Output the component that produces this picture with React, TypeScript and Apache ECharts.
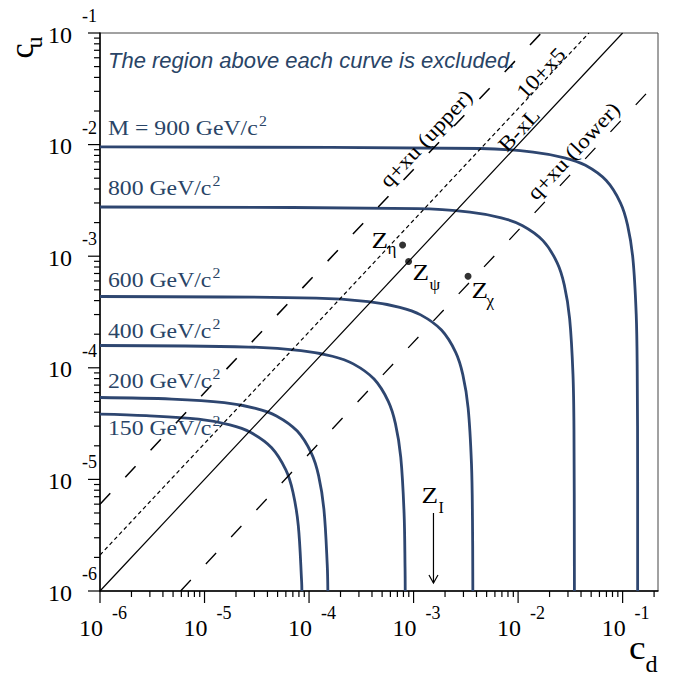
import React, { useEffect, useRef } from "react";
import * as echarts from "echarts";

// ---------------- data ----------------
const xMin = 1e-6;
const xMax = 0.218;
const yMin = 1e-6;
const yMax = 0.1;
const decades = [1e-6, 1e-5, 1e-4, 1e-3, 1e-2, 1e-1];
const minorMultipliers = [2, 3, 4, 5, 6, 7, 8, 9];

const massNames = ["M = 900 GeV/c", "800 GeV/c", "600 GeV/c", "400 GeV/c", "200 GeV/c", "150 GeV/c"];

// [c_d, c_u]
const curve900 = [
  [1e-6, 9.53e-3], [4.41e-3, 9.23e-3], [1.393e-2, 8.58e-3], [2.78e-2, 7.62e-3], [4.41e-2, 6.52e-3],
  [6.97e-2, 4.76e-3], [9.53e-2, 3.01e-3], [0.1115, 1.9e-3], [0.1254, 9.53e-4], [0.1349, 3.01e-4],
  [0.1379, 9.53e-5], [0.1392, 9.53e-6], [0.1392, 1e-6],
];
const curve800 = [
  [1e-6, 2.76e-3], [1.094e-3, 2.673e-3], [3.46e-3, 2.484e-3], [6.9e-3, 2.209e-3], [1.094e-2, 1.888e-3],
  [1.73e-2, 1.38e-3], [2.366e-2, 8.73e-4], [2.769e-2, 5.51e-4], [3.112e-2, 2.76e-4], [3.35e-2, 8.73e-5],
  [3.424e-2, 2.76e-5], [3.458e-2, 1e-6],
];
const curve600 = [
  [1e-6, 4.355e-4], [1.17e-4, 4.217e-4], [3.7e-4, 3.919e-4], [7.38e-4, 3.485e-4], [1.17e-3, 2.979e-4],
  [1.849e-3, 2.178e-4], [2.529e-3, 1.377e-4], [2.959e-3, 8.69e-5], [3.327e-3, 4.355e-5], [3.581e-3, 1.377e-5],
  [3.661e-3, 4.355e-6], [3.69e-3, 1e-6],
];
const curve400 = [
  [1e-6, 1.585e-4], [2.649e-5, 1.535e-4], [8.38e-5, 1.426e-4], [1.671e-4, 1.269e-4], [2.649e-4, 1.084e-4],
  [4.188e-4, 7.925e-5], [5.728e-4, 5.01e-5], [6.705e-4, 3.162e-5], [7.538e-4, 1.585e-5], [8.11e-4, 5.01e-6],
  [8.29e-4, 1.585e-6], [8.32e-4, 1e-6],
];
const curve200 = [
  [1e-6, 5.42e-5], [4.875e-6, 5.248e-5], [1.542e-5, 4.877e-5], [3.076e-5, 4.337e-5], [4.875e-5, 3.707e-5],
  [7.709e-5, 2.71e-5], [1.054e-4, 1.714e-5], [1.234e-4, 1.081e-5], [1.387e-4, 5.42e-6], [1.493e-4, 1.714e-6],
  [1.513e-4, 1e-6],
];
const curve150 = [
  [1e-6, 3.846e-5], [2.773e-6, 3.724e-5], [8.77e-6, 3.461e-5], [1.75e-5, 3.077e-5], [2.773e-5, 2.63e-5],
  [4.385e-5, 1.923e-5], [5.998e-5, 1.216e-5], [7.018e-5, 7.674e-6], [7.891e-5, 3.846e-6], [8.492e-5, 1.216e-6],
  [8.54e-5, 1e-6],
];
const curves = [curve900, curve800, curve600, curve400, curve200, curve150];

// reference lines [c_d, c_u]
const lineUpperQ = [[1e-6, 6e-6], [1.667e-2, 0.1]];
const line10x5 = [[1e-6, 2.1e-6], [4.76e-2, 0.1]];
const lineBxL = [[1e-6, 1e-6], [0.1, 0.1]];
const lineLowerQ = [[5.9e-6, 1e-6], [0.218, 3.71e-2]];

// Z' model points [c_d, c_u]
const zPoints = [[7.85e-4, 1.26e-3], [8.96e-4, 8.97e-4], [3.32e-3, 6.62e-4]];
// Z_I arrow: c_d, c_u (tail), c_u (head)
const zIArrow = [[1.55e-3, 5e-6, 1.18e-6]];

const zSubs = ["η", "ψ", "χ", "I"];
const lineLabels = ["q+xu (upper)", "10+x5", "B-xL", "q+xu (lower)"];
const noteText = "The region above each curve is excluded.";

// ---------------- styles ----------------
const NAVY = "#2e4670";
const NAVY_TEXT = "#294466";
const SERIF = "'Liberation Serif', 'Times New Roman', serif";
const SANS = "'Liberation Sans', Arial, sans-serif";

function buildTickRows() {
  const rows: number[][] = [];
  decades.forEach((d) => {
    if (d <= xMax) rows.push([d, yMin, 0, 12]);
    minorMultipliers.forEach((m) => {
      const v = m * d;
      if (v < xMax) rows.push([v, yMin, 0, 6]);
    });
  });
  decades.forEach((d) => {
    if (d <= yMax) rows.push([xMin, d, 1, 12]);
    minorMultipliers.forEach((m) => {
      const v = m * d;
      if (v < yMax) rows.push([xMin, v, 1, 6]);
    });
  });
  return rows;
}

function expFormatter(v: number) {
  const l = Math.log10(v);
  const e = Math.round(l);
  if (Math.abs(l - e) > 0.01) return "";
  return `{b|10}{e|${e}}`;
}

function massLabel(text: string, baseline: number) {
  return {
    type: "text",
    x: 108,
    y: baseline - 21.1,
    scaleX: 1.13,
    z: 100,
    silent: true,
    style: {
      text: `{b|${text}}{s|2}`,
      fill: NAVY_TEXT,
      align: "left",
      verticalAlign: "top",
      rich: {
        b: { fontFamily: SERIF, fontSize: 21, lineHeight: 21, padding: [3.5, 0, 0, 0], fill: NAVY_TEXT },
        s: { fontFamily: SERIF, fontSize: 14, lineHeight: 14, padding: [0, 0, 10.5, 1], fill: NAVY_TEXT },
      },
    },
  };
}

function plainText(text: string, x: number, y: number, size: number, opts: any = {}) {
  return {
    type: "text",
    x,
    y,
    z: 100,
    silent: true,
    scaleX: opts.scaleX ?? 1,
    rotation: opts.rotation ?? 0,
    style: {
      text,
      font: `${opts.italic ? "italic " : ""}${size}px ${opts.family ?? SERIF}`,
      fill: opts.fill ?? "#000",
      align: opts.align ?? "left",
      verticalAlign: "middle",
    },
  };
}

const ROT = Math.atan(111.6 / 104.5);

export default function App() {
  const ref = useRef<HTMLDivElement>(null);

  useEffect(() => {
    const chart = echarts.init(ref.current!, undefined, { renderer: "svg" });

    const massBaselines = [136.7, 196.7, 289, 340, 390, 436.7];
    const linePos = [
      [426, 138.5],
      [541, 73],
      [519, 130],
      [573.5, 151],
    ];

    const graphics: any[] = [
      plainText(noteText, 108, 60.5, 22, { italic: true, family: SANS, fill: NAVY_TEXT }),
      ...massNames.map((t, i) => massLabel(t, massBaselines[i])),
      ...lineLabels.map((t, i) =>
        plainText(t, linePos[i][0], linePos[i][1], 21, { rotation: ROT, scaleX: 1.13, align: "center" })
      ),
      // Z labels
      plainText("Z", 371.5, 239.9, 24, { scaleX: 1.13 }),
      plainText(zSubs[0], 387.5, 248.9, 17),
      plainText("Z", 412.5, 271.9, 24, { scaleX: 1.13 }),
      plainText(zSubs[1], 429.5, 284.6, 17),
      plainText("Z", 471.5, 289.9, 24, { scaleX: 1.13 }),
      plainText(zSubs[2], 486.5, 300.6, 17),
      plainText("Z", 421.5, 494.9, 24, { scaleX: 1.13 }),
      plainText(zSubs[3], 438.5, 507.6, 16),
      // axis titles
      plainText("c", 21.5, 58.5, 34, { rotation: Math.PI / 2 }),
      plainText("u", 34.4, 48.5, 24, { rotation: Math.PI / 2 }),
      plainText("c", 629, 648, 34, { scaleX: 1.1 }),
      plainText("d", 645.5, 664.5, 23, { scaleX: 1.05 }),
    ];

    const labelRich = (isX: boolean) =>
      isX
        ? {
            b: { fontFamily: SERIF, fontSize: 24, lineHeight: 24, color: "#000", padding: [11.5, 0, 0, 6] },
            e: { fontFamily: SERIF, fontSize: 18, lineHeight: 18, color: "#000", padding: [0, 0, 17.5, 9] },
          }
        : {
            b: { fontFamily: SERIF, fontSize: 24, lineHeight: 24, color: "#000", padding: [15.5, 0, 12.5, 0] },
            e: { fontFamily: SERIF, fontSize: 18, lineHeight: 18, color: "#000", padding: [0, 0, 34, 10] },
          };

    const option: any = {
      animation: false,
      backgroundColor: "#fff",
      grid: { left: 100, top: 33, right: 18, bottom: 86, show: true, borderColor: "#444", borderWidth: 1 },
      xAxis: {
        type: "log",
        logBase: 10,
        min: xMin,
        max: xMax,
        axisLine: { show: true, lineStyle: { color: "#000", width: 1.5 } },
        axisTick: { show: false },
        minorTick: { show: false },
        splitLine: { show: false },
        axisLabel: { margin: 19, fontFamily: SERIF, formatter: expFormatter, rich: labelRich(true) },
      },
      yAxis: {
        type: "log",
        logBase: 10,
        min: yMin,
        max: yMax,
        axisLine: { show: true, lineStyle: { color: "#000", width: 1.5 } },
        axisTick: { show: false },
        minorTick: { show: false },
        splitLine: { show: false },
        axisLabel: { margin: 3, fontFamily: SERIF, formatter: expFormatter, rich: labelRich(false) },
      },
      graphic: { elements: graphics },
      series: [
        ...curves.map((c, i) => ({
          type: "line",
          name: massNames[i],
          data: c,
          symbol: "none",
          showSymbol: false,
          smooth: 0.35,
          lineStyle: { color: NAVY, width: 2.8 },
          z: 3,
          silent: true,
        })),
        {
          type: "line",
          data: lineUpperQ,
          symbol: "none",
          lineStyle: { color: "#000", width: 1.5, type: [15, 22] },
          z: 4,
          silent: true,
        },
        {
          type: "line",
          data: line10x5,
          symbol: "none",
          lineStyle: { color: "#000", width: 1.2, type: [4, 3] },
          z: 4,
          silent: true,
        },
        {
          type: "line",
          data: lineBxL,
          symbol: "none",
          lineStyle: { color: "#000", width: 1.2 },
          z: 4,
          silent: true,
        },
        {
          type: "line",
          data: lineLowerQ,
          symbol: "none",
          lineStyle: { color: "#000", width: 1.3, type: [15, 22] },
          z: 4,
          silent: true,
        },
        {
          type: "scatter",
          data: zPoints,
          symbol: "circle",
          symbolSize: 7,
          itemStyle: { color: "#000" },
          z: 6,
          silent: true,
        },
        {
          type: "custom",
          data: zIArrow,
          encode: { x: 0, y: [1, 2] },
          clip: false,
          silent: true,
          z: 6,
          renderItem: (params: any, api: any) => {
            const t = api.coord([api.value(0), api.value(1)]);
            const h = api.coord([api.value(0), api.value(2)]);
            return {
              type: "group",
              children: [
                { type: "line", shape: { x1: t[0], y1: t[1], x2: h[0], y2: h[1] }, style: { stroke: "#000", lineWidth: 1.2 } },
                {
                  type: "polyline",
                  shape: { points: [[h[0] - 4.5, h[1] - 8], [h[0], h[1]], [h[0] + 4.5, h[1] - 8]] },
                  style: { stroke: "#000", fill: "none", lineWidth: 1.2 },
                },
              ],
            };
          },
        },
        {
          type: "custom",
          data: buildTickRows(),
          encode: { x: 0, y: 1 },
          clip: false,
          silent: true,
          z: 7,
          renderItem: (params: any, api: any) => {
            const p = api.coord([api.value(0), api.value(1)]);
            const dir = api.value(2);
            const len = api.value(3);
            const x2 = dir === 1 ? p[0] - len : p[0];
            const y2 = dir === 0 ? p[1] + len : p[1];
            return {
              type: "line",
              shape: { x1: p[0], y1: p[1], x2, y2 },
              style: { stroke: "#000", lineWidth: 1.2 },
            };
          },
        },
      ],
    };

    chart.setOption(option);
    return () => chart.dispose();
  }, []);

  return (
    <div
      ref={ref}
      style={{ position: "fixed", left: 0, top: 0, width: 676, height: 677, background: "#fff" }}
    />
  );
}
